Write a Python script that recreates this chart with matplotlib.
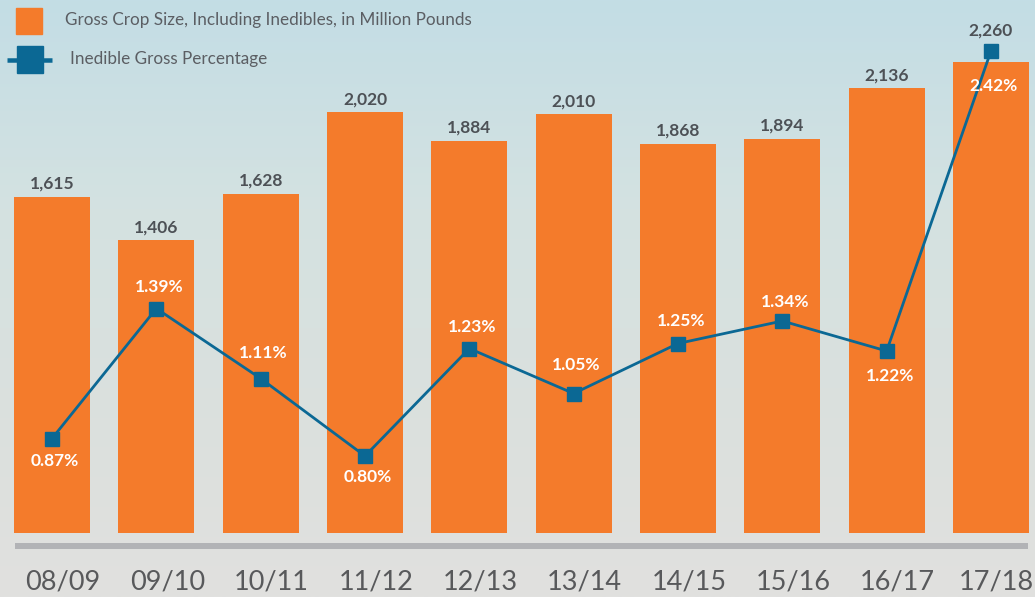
import numpy as np
import matplotlib
matplotlib.use("Agg")
import matplotlib.pyplot as plt
from matplotlib.lines import Line2D
from matplotlib.patches import Rectangle
import matplotlib.transforms as mtransforms

# ---- data ----
seasons = ["08/09", "09/10", "10/11", "11/12", "12/13", "13/14", "14/15", "15/16", "16/17", "17/18"]
crop_size = [1615, 1406, 1628, 2020, 1884, 2010, 1868, 1894, 2136, 2260]
inedible_pct = [0.87, 1.39, 1.11, 0.80, 1.23, 1.05, 1.25, 1.34, 1.22, 2.42]
crop_labels = ["1,615", "1,406", "1,628", "2,020", "1,884", "2,010", "1,868", "1,894", "2,136", "2,260"]
pct_labels = ["0.87%", "1.39%", "1.11%", "0.80%", "1.23%", "1.05%", "1.25%", "1.34%", "1.22%", "2.42%"]
legend_bar = "Gross Crop Size, Including Inedibles, in Million Pounds"
legend_line = "Inedible Gross Percentage"

# ---- style ----
ORANGE = "#f47b2b"
BLUE = "#0b6894"
DARK = "#4d5156"
TICK = "#58595b"
FONT = ["Lato", "DejaVu Sans"]

W, H = 1035, 597
DPI = 100
fig = plt.figure(figsize=(W / DPI, H / DPI), dpi=DPI)

def fx(px):
    return px / W

def fy(py):
    return 1 - py / H

PT = 72 / DPI  # points per pixel

# background gradient
bg = fig.add_axes([0, 0, 1, 1], zorder=-10)
stops_y = np.array([0.0, 0.35, 0.75, 1.0])
c_top = np.array([0xc3, 0xdd, 0xe5]) / 255
c_mid = np.array([0xd4, 0xe2, 0xe1]) / 255
c_low = np.array([0xdc, 0xe0, 0xdd]) / 255
c_bot = np.array([0xe1, 0xe1, 0xdf]) / 255
cols = np.array([c_top, c_mid, c_low, c_bot])
yy = np.linspace(0, 1, 300)
grad = np.stack([np.interp(yy, stops_y, cols[:, k]) for k in range(3)], axis=-1)
bg.imshow(grad[:, None, :], aspect="auto", extent=[0, 1, 0, 1], origin="upper")
bg.set_axis_off()

# main axes: bars baseline at pixel 532.5, top at 0
base_px = 532.5
ax = fig.add_axes([0, fy(base_px), 1, base_px / H])
ax.patch.set_alpha(0)
pitch = 104.33
x0 = 52
n = len(seasons)
x = np.arange(n)
ax.set_xlim(-x0 / pitch, (W - x0) / pitch)
scale = 0.208  # px per unit
ax.set_ylim(0, base_px / scale)
ax.bar(x, crop_size, width=76 / pitch, color=ORANGE, zorder=2)
for s in ax.spines.values():
    s.set_visible(False)
ax.set_yticks([])
ax.set_xticks(x)
ax.set_xticklabels(seasons)
ax.tick_params(axis="x", length=0, pad=37 * PT, labelsize=19.5, labelcolor=TICK)
labs = ax.get_xticklabels()
for i, lab in enumerate(labs):
    lab.set_fontfamily(FONT)
    lab.set_fontweight("normal")
    dx = 11 if i < n - 1 else 5
    lab.set_transform(lab.get_transform() + mtransforms.ScaledTranslation(dx / DPI, 0, fig.dpi_scale_trans))

# bar value labels
bar_dy = [13, 13, 13, 13, 13, 13, 13, 13, 13, 32]
for i in range(n):
    ax.annotate(crop_labels[i], (x[i], crop_size[i]), xytext=(0, bar_dy[i] * PT),
                textcoords="offset points", ha="center", va="center",
                fontsize=12.5, fontweight="bold", color=DARK, family=FONT, zorder=5)

# line on twin axis
ax2 = ax.twinx()
ax2.set_ylim(0.80 - (base_px - 456) / 250, 0.80 + 456 / 250)
ax2.set_axis_off()
ax2.plot(x, inedible_pct, color=BLUE, lw=2, marker="s", markersize=14 * PT,
         markerfacecolor=BLUE, markeredgecolor=BLUE, zorder=4)
pct_dy = [-23, 21, 25, -21, 22, 29, 22, 19, -25, -35]
for i in range(n):
    ax2.annotate(pct_labels[i], (x[i], inedible_pct[i]), xytext=(3 * PT, pct_dy[i] * PT),
                 textcoords="offset points", ha="center", va="center",
                 fontsize=12.5, fontweight="bold", color="white", family=FONT, zorder=5)

# baseline gray bar
fig.add_artist(Line2D([fx(15), fx(1028)], [fy(546), fy(546)], color="#b2b3b6",
                      lw=6 * PT, solid_capstyle="butt"))

# legend
fig.add_artist(Rectangle((fx(16), fy(34)), fx(26), 26 / H, color=ORANGE, transform=fig.transFigure))
fig.add_artist(Line2D([fx(7), fx(52)], [fy(60), fy(60)], color=BLUE, lw=4.5 * PT, solid_capstyle="butt"))
fig.add_artist(Rectangle((fx(17), fy(73)), fx(26), 27 / H, color=BLUE, transform=fig.transFigure))
fig.text(fx(65), fy(20.5), legend_bar, ha="left", va="center", fontsize=12.3, color="#5b5e63", family=FONT)
fig.text(fx(70), fy(59), legend_line, ha="left", va="center", fontsize=12.3, color="#5b5e63", family=FONT)

fig.savefig("out.png", dpi=DPI)
